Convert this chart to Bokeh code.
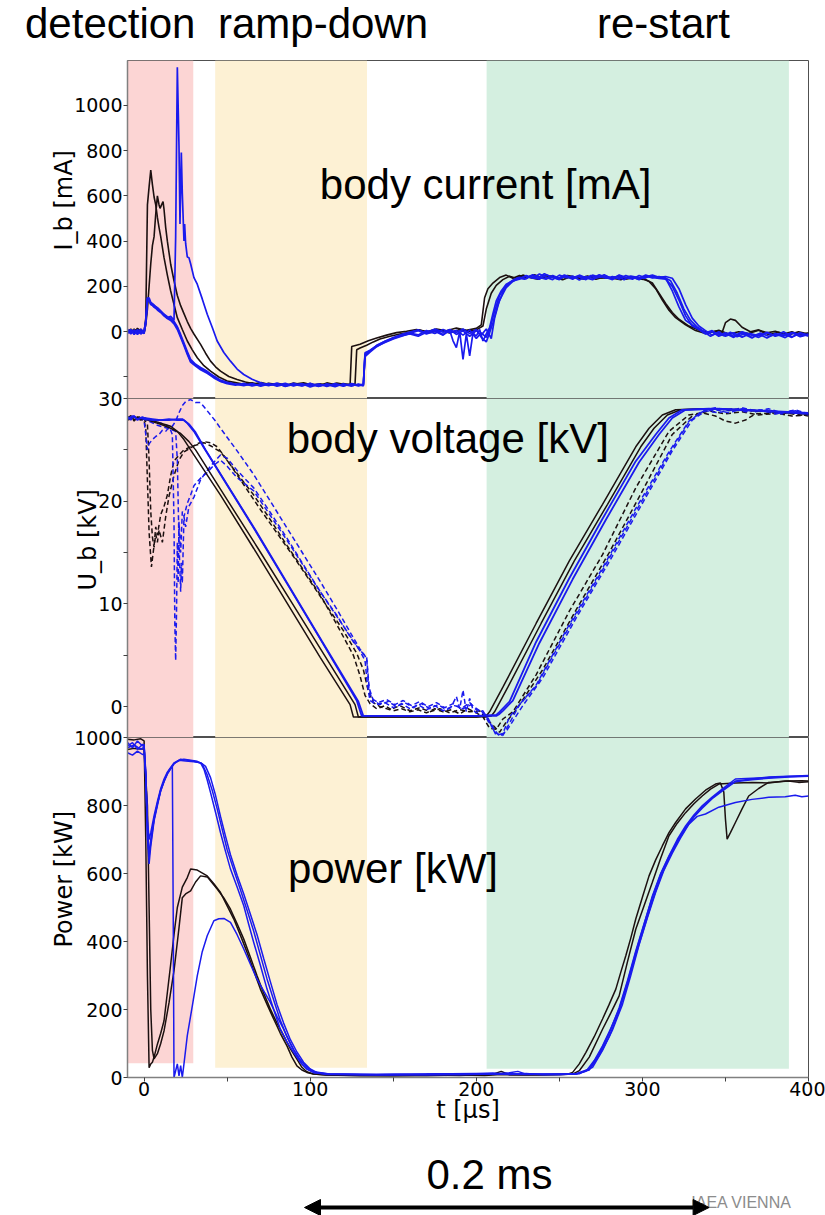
import math
from bokeh.plotting import figure
from bokeh.models import Range1d, FixedTicker, BoxAnnotation, Label, Arrow, NormalHead, Title, Div
from bokeh.layouts import column
from bokeh.embed import file_html
from bokeh.resources import INLINE

# ---------------- data (t in microseconds) ----------------
X_TICKS = [0, 100, 200, 300, 400]
X_MINOR = [50, 150, 250, 350]
I_TICKS = [0, 200, 400, 600, 800, 1000]
I_MINOR = [-200]
U_TICKS = [0, 10, 20, 30]
U_MINOR = [5, 15, 25]
P_TICKS = [0, 200, 400, 600, 800, 1000]

# phase bands
BAND_T0 = [-10, 42.8, 206.2]
BAND_T1 = [29.6, 134.2, 388.2]
BAND_COLORS = ["#fcd5d4", "#fdf1d4", "#d4efe0"]
BAND_P_BOTTOM = [42, 29, 26]

PHASES = ["detection", "ramp-down", "re-start"]

# body current [mA]
I_black_a = [(-10,0),(-8,12),(-6,-4),(-4,15),(-2,2),(0,-6),(1,60),(2,560),(3,640),(4,714),(5,650),(6,595),(7,560),(8,505),(9,460),(10,420),(12,327),(14,250),(16,180),(18,120),(20,62),(23,10),(26,-41),(29,-80),(32,-115),(36,-150),(40,-174),(45,-200),(50,-218),(55,-225),(60,-232),(65,-226),(70,-236),(75,-228),(80,-233),(85,-238),(90,-227),(95,-234),(100,-229),(105,-240),(110,-226),(115,-234),(120,-229),(124,-235),(125,-65),(130,-55),(135,-40),(140,-28),(146,-15),(152,-4),(158,2),(164,10),(170,0),(176,12),(182,4),(188,16),(194,6),(200,15),(203,30),(205,150),(207,190),(210,215),(214,239),(218,250),(222,236),(226,248),(230,238),(235,252),(240,236),(245,246),(250,234),(255,248),(260,240),(265,232),(270,246),(275,238),(280,236),(285,244),(290,232),(295,240),(300,235),(304,222),(308,190),(312,140),(316,95),(320,62),(326,30),(332,5),(338,-8),(344,2),(348,-4),(350,40),(353,56),(356,50),(360,20),(365,0),(370,8),(375,-5),(380,2),(385,-10),(390,0),(395,-15),(400,-5)]
I_black_b = [(-10,6),(-8,-5),(-6,12),(-4,0),(-2,10),(0,-4),(1,30),(2,100),(3,200),(4,300),(5,380),(6,420),(7,520),(8,600),(9,560),(9.6,545),(10.5,560),(11.4,575),(12,540),(13,460),(14,400),(16,298),(18,225),(20,160),(22,115),(24,80),(26,45),(28,15),(30,-10),(34,-56),(37,-95),(40,-130),(43,-155),(46,-174),(51,-198),(56,-211),(61,-222),(66,-230),(71,-225),(76,-234),(81,-229),(86,-237),(91,-231),(96,-226),(101,-236),(106,-230),(111,-238),(116,-227),(121,-233),(127,-230),(128,-80),(130,-72),(134,-60),(138,-45),(142,-32),(148,-20),(154,-10),(160,-2),(166,8),(172,-4),(178,6),(184,-6),(190,10),(196,2),(200,8),(204,25),(206,100),(209,170),(212,205),(216,230),(220,245),(224,236),(228,250),(232,240),(237,232),(242,248),(247,238),(252,230),(257,244),(262,236),(267,246),(272,232),(277,242),(282,236),(287,230),(292,244),(297,234),(302,230),(306,215),(310,170),(314,125),(318,85),(322,55),(328,25),(334,8),(340,-5),(346,6),(352,-10),(358,0),(364,-8),(370,6),(376,-12),(382,-2),(388,-14),(394,0),(400,-10)]
I_blue_s = [(-10,-8),(-8,10),(-6,-12),(-4,5),(-2,-10),(0,2),(1,40),(2,150),(3,138),(4,128),(6,115),(8,106),(10,92),(12,76),(14,62),(16,68),(18,50),(19,420),(20,1168),(21,820),(21.6,476),(22.4,792),(23,610),(24,401),(24.4,476),(25,390),(26,330),(27,327),(28,300),(30,239),(32,210),(35,145),(38,77),(41,20),(44,-41),(48,-92),(52,-130),(56,-165),(60,-189),(65,-210),(70,-225),(75,-236),(80,-230),(85,-240),(90,-228),(95,-238),(100,-232),(105,-242),(110,-230),(115,-238),(120,-233),(125,-240),(129,-231),(132,-236),(133,-93),(136,-82),(140,-62),(145,-42),(150,-28),(155,-18),(160,-10),(165,-20),(170,-2),(175,8),(180,-12),(184,5),(186,-40),(188,-70),(190,0),(192,-122),(194,-10),(196,-107),(198,-5),(200,-20),(202,10),(204,-41),(206,-10),(208,18),(210,80),(212,136),(215,180),(218,210),(222,225),(226,232),(230,248),(234,236),(238,255),(242,240),(246,230),(250,250),(254,238),(258,246),(262,228),(266,244),(270,236),(274,252),(278,240),(282,230),(286,248),(290,236),(294,242),(298,230),(302,246),(306,238),(310,244),(314,236),(318,180),(322,110),(326,50),(330,30),(334,15),(338,-5),(342,5),(346,-15),(350,-5),(355,-20),(360,0),(365,-12),(370,-25),(375,-5),(380,-18),(385,0),(390,-22),(395,-8),(400,-20)]
I_blue_1 = [(-10,5),(-8,-10),(-6,8),(-4,-6),(-2,12),(0,-4),(1,50),(2,150),(3,140),(4,125),(6,108),(8,100),(10,88),(12,72),(14,60),(16,55),(18,42),(20,18),(22,-20),(24,-56),(26,-95),(28,-130),(31,-148),(34,-162),(38,-178),(42,-200),(46,-218),(50,-226),(55,-232),(60,-238),(65,-229),(70,-240),(75,-232),(80,-236),(85,-228),(90,-240),(95,-230),(100,-237),(105,-231),(110,-242),(115,-229),(120,-238),(125,-232),(129,-240),(132,-234),(133,-110),(136,-90),(140,-66),(145,-45),(150,-30),(155,-16),(160,-6),(165,-14),(170,5),(175,-8),(180,10),(184,-5),(188,6),(192,-15),(196,8),(200,-30),(203,-5),(206,-25),(208,10),(211,90),(214,160),(218,205),(222,228),(226,240),(230,234),(234,252),(238,240),(242,232),(246,248),(250,236),(254,244),(258,232),(262,250),(266,238),(270,230),(274,246),(278,236),(282,244),(286,232),(290,248),(294,238),(298,236),(302,250),(306,240),(310,236),(314,232),(318,200),(322,140),(326,70),(330,25),(334,10),(338,-10),(342,0),(346,-20),(350,-8),(355,-25),(360,-5),(365,-20),(370,-10),(375,-28),(380,-8),(385,-18),(390,-4),(395,-22),(400,-12)]
I_blue_2 = [(-10,-5),(-8,8),(-6,-10),(-4,10),(-2,-6),(0,6),(1,45),(2,140),(3,135),(4,120),(6,112),(8,96),(10,85),(12,70),(14,58),(16,50),(18,35),(20,10),(22,-25),(24,-62),(26,-100),(28,-134),(31,-152),(34,-168),(38,-184),(42,-204),(46,-220),(50,-230),(55,-236),(60,-228),(65,-240),(70,-231),(75,-238),(80,-227),(85,-242),(90,-233),(95,-239),(100,-228),(105,-240),(110,-234),(115,-243),(120,-230),(125,-238),(129,-233),(132,-240),(133,-105),(136,-86),(140,-60),(145,-42),(150,-26),(155,-12),(160,-2),(165,8),(170,-6),(175,12),(180,-2),(184,10),(188,-12),(192,4),(196,-20),(200,5),(203,-15),(206,12),(209,-30),(211,60),(214,140),(218,195),(222,222),(226,236),(230,246),(234,238),(238,232),(242,252),(246,240),(250,230),(254,248),(258,238),(262,244),(266,230),(270,250),(274,240),(278,246),(282,234),(286,250),(290,240),(294,232),(298,248),(302,238),(306,250),(310,240),(314,244),(318,236),(322,190),(326,120),(330,60),(334,25),(338,5),(342,-15),(346,0),(350,-20),(355,-5),(360,-24),(365,-8),(370,-18),(375,-2),(380,-20),(385,-10),(390,-25),(395,-5),(400,-15)]
I_blue_3 = [(-10,10),(-8,-4),(-6,6),(-4,-12),(-2,4),(0,-8),(1,35),(2,145),(3,150),(4,130),(6,118),(8,104),(10,90),(12,78),(14,66),(16,58),(18,45),(20,22),(22,-12),(24,-50),(26,-88),(28,-122),(31,-144),(34,-158),(38,-175),(42,-196),(46,-214),(50,-224),(55,-231),(60,-235),(65,-233),(70,-238),(75,-229),(80,-241),(85,-232),(90,-237),(95,-230),(100,-244),(105,-233),(110,-237),(115,-232),(120,-241),(125,-229),(129,-237),(132,-232),(133,-100),(136,-84),(140,-64),(145,-48),(150,-32),(155,-20),(160,-8),(165,4),(170,-10),(175,2),(180,-15),(184,8),(188,-4),(192,12),(196,-8),(200,10),(203,-25),(206,-45),(208,-5),(210,40),(213,120),(217,190),(221,220),(225,238),(229,232),(233,248),(237,236),(241,256),(245,242),(249,234),(253,250),(257,236),(261,246),(265,232),(269,248),(273,238),(277,252),(281,236),(285,244),(289,230),(293,246),(297,240),(301,236),(305,248),(309,238),(313,240),(317,225),(321,170),(325,100),(329,50),(333,20),(337,0),(341,-20),(345,-5),(349,-18),(353,-2),(357,-22),(361,-10),(366,-28),(371,-6),(376,-20),(381,-12),(386,-26),(391,-4),(396,-18),(400,-10)]

# body voltage [kV]: solid and dashed
U_black_1 = [(-10,28.1),(-8,28.3),(-6,27.9),(-4,28.2),(-2,28.0),(0,28.1),(4,27.9),(8,27.7),(12,27.5),(16,27.3),(20,26.8),(24,26.0),(28,25.0),(46,20.6),(66,15.4),(86,10.1),(106,4.8),(124,0.2),(126,-1.0),(140,-1.0),(160,-1.0),(180,-1.0),(200,-1.0),(206,-0.9),(208,-0.5),(216,1.9),(236,8.1),(256,14.2),(276,19.7),(296,25.3),(304,27.1),(312,28.4),(320,28.9),(340,29.0),(360,28.9),(380,28.7),(400,28.5)]
U_black_2 = [(-10,28.0),(-6,28.2),(-2,27.9),(0,28.0),(4,27.8),(10,27.5),(16,27.1),(22,26.6),(27,25.8),(31,25.0),(49,20.4),(69,15.3),(89,10.1),(109,4.9),(127,0.2),(129,-1.0),(160,-1.0),(200,-1.0),(209,-0.9),(211,-0.5),(219,1.9),(239,8.1),(259,14.2),(279,19.7),(299,25.3),(307,27.1),(315,28.4),(323,28.9),(340,29.0),(370,28.8),(400,28.5)]
U_blue_1 = [(-10,28.2),(-8,28.0),(-6,28.3),(-4,27.9),(-2,28.1),(0,28.0),(5,27.9),(10,27.9),(15,27.9),(20,28.0),(23,28.0),(26,27.6),(30,26.8),(36,25.2),(66,17.4),(86,12.0),(106,6.6),(128,0.6),(131,-0.9),(160,-0.9),(200,-0.9),(212,-0.8),(214,-0.5),(220,0.5),(236,6.3),(256,12.5),(276,18.3),(296,23.9),(308,26.5),(316,28.1),(324,28.9),(340,29.0),(370,28.8),(400,28.5)]
U_blue_2 = [(-10,28.0),(-7,28.3),(-4,28.0),(-1,28.2),(0,28.1),(5,28.0),(10,27.9),(15,28.0),(20,27.9),(24,27.9),(27,27.5),(31,26.7),(37,25.0),(67,17.2),(87,11.8),(107,6.4),(129,0.5),(132,-0.9),(170,-0.9),(212,-0.9),(214,-0.7),(216,-0.4),(222,0.6),(238,6.2),(258,12.4),(278,18.2),(298,23.8),(310,26.5),(318,28.1),(326,28.9),(345,29.0),(375,28.8),(400,28.6)]
U_black_d1 = [(-10,28.1),(-8,28.3),(-6,27.8),(-4,28.2),(-2,28.0),(0,27.9),(1,27.0),(2,22),(3,17),(4.4,13.6),(6,15.7),(7,17.5),(8,16.7),(10,18.7),(12,19.5),(14,20.6),(16,22.5),(18,23.9),(21,24.5),(24,25.0),(28,25.3),(32,25.5),(36,25.7),(40,25.4),(46,24.8),(56,22.7),(66,20.6),(76,18.2),(86,15.7),(96,13.3),(106,10.9),(116,8.0),(126,5.0),(130,3.0),(133,1.1),(136,0.3),(140,-0.2),(145,0.1),(150,-0.4),(155,-0.2),(160,-0.5),(165,-0.3),(170,-0.6),(175,-0.2),(180,-0.5),(185,-0.3),(190,-0.7),(195,-0.2),(200,-0.6),(204,-1.0),(208,-2.1),(212,-2.2),(216,-1.2),(222,-0.5),(236,3.1),(256,9.3),(276,14.8),(296,21.3),(316,26.8),(328,28.4),(336,28.6),(344,28.3),(350,27.8),(356,27.6),(362,27.9),(368,28.5),(380,28.6),(390,28.3),(400,28.4)]
U_black_d2 = [(-10,27.9),(-6,28.1),(-2,28.2),(0,28.0),(2,27.5),(3,24),(4,19),(5,16.5),(6,15.5),(7,16.8),(8,16.0),(9,17.2),(11,16.0),(13,18.5),(15,20.5),(18,22.5),(21,24.0),(24,24.8),(28,25.2),(32,25.6),(36,25.8),(40,25.7),(44,25.3),(50,24.0),(60,21.6),(70,19.2),(80,16.9),(90,14.6),(100,12.2),(110,9.8),(120,7.4),(128,5.2),(132,3.6),(135,1.5),(138,0.4),(142,0.0),(148,-0.3),(154,0.1),(160,-0.4),(166,-0.1),(172,-0.5),(178,-0.2),(184,-0.6),(190,-0.3),(196,-0.5),(202,-0.4),(206,-1.2),(210,-1.8),(214,-2.5),(218,-1.5),(224,-0.3),(240,3.6),(260,9.4),(280,15.0),(300,21.0),(318,26.5),(330,28.3),(340,28.8),(350,28.5),(360,28.7),(370,28.4),(385,28.6),(400,28.3)]
U_blue_d1 = [(-10,28.0),(-6,28.2),(-2,27.9),(0,28.1),(4,27.9),(8,27.7),(12,27.5),(15,27.3),(17,26.5),(18,18),(18.5,8),(19,4.5),(19.5,9),(20,16),(20.5,12),(21,18),(22,15),(23,19),(24,18.5),(26,19.8),(28,20.6),(30,21.5),(32,21.9),(35,22.4),(38,22.8),(42,23.5),(46,24.0),(50,23.4),(56,22.3),(66,21.0),(76,18.6),(86,16.2),(96,13.7),(106,11.2),(116,8.8),(126,6.4),(130,5.4),(133,4.5),(134.5,2.0),(136,0.6),(140,0.2),(145,0.4),(150,-0.1),(155,0.3),(160,-0.2),(165,0.2),(170,-0.3),(175,0.1),(180,-0.4),(185,0.0),(188,1.0),(190,-0.2),(192,1.6),(194,-0.5),(196,0.8),(198,-0.3),(200,-0.6),(204,-0.4),(208,-1.5),(212,-2.8),(216,-2.6),(220,-1.0),(226,0.2),(236,2.1),(256,8.0),(276,13.5),(296,19.3),(316,24.8),(328,27.8),(336,28.7),(344,28.9),(352,28.6),(360,29.0),(368,28.7),(376,28.9),(384,28.5),(392,28.8),(400,28.4)]
U_blue_d2 = [(-10,28.1),(-6,27.9),(-2,28.2),(0,28.0),(4,27.7),(8,27.4),(12,27.2),(16,27.0),(19,26.8),(20,24),(21,16),(22,11.2),(22.5,14),(23,12),(24,18.5),(25,17.5),(27,19.5),(30,20.4),(34,22.1),(38,23.0),(42,23.8),(46,24.5),(50,24.2),(56,23.0),(66,21.3),(76,18.9),(86,16.4),(96,13.8),(106,11.2),(116,8.9),(126,6.3),(130,5.5),(134,4.8),(135.5,1.8),(138,0.6),(142,0.2),(147,0.5),(152,0.0),(157,0.4),(162,-0.1),(167,0.3),(172,-0.2),(177,0.2),(182,-0.3),(187,0.1),(192,-0.2),(197,0.2),(202,-0.4),(206,-0.8),(210,-2.0),(214,-2.9),(218,-2.4),(222,-1.4),(228,0.1),(240,2.8),(260,8.6),(280,14.1),(300,19.8),(318,24.9),(330,27.9),(338,28.8),(346,28.6),(354,29.0),(362,28.7),(370,28.9),(380,28.5),(390,28.8),(400,28.4)]
U_blue_d3 = [(-10,28.2),(-8,27.9),(-6,28.3),(-4,28.0),(-2,28.1),(0,27.8),(1,26.5),(2,25.0),(3,25.6),(5,26.0),(7,26.3),(9,26.5),(11,26.9),(13,26.8),(15,27.2),(17,27.3),(19,27.8),(21,28.6),(23,29.3),(25,29.7),(28,29.9),(31,29.6),(34,29.6),(37,29.0),(40,28.4),(43,27.8),(46,27.1),(56,24.9),(66,22.6),(76,20.0),(86,17.4),(96,14.8),(106,12.2),(116,9.5),(126,6.7),(130,5.6),(134,4.7),(135.3,1.8),(137,0.8),(141,0.4),(146,0.7),(151,0.2),(156,0.6),(161,0.1),(166,0.5),(171,0.0),(176,0.4),(181,-0.1),(186,0.3),(191,-0.2),(196,0.4),(200,-0.3),(204,-0.6),(208,-1.6),(212,-2.6),(216,-2.8),(220,-1.6),(226,0.2),(236,2.0),(256,7.8),(276,13.3),(296,19.0),(316,24.6),(328,27.7),(336,28.8),(344,29.1),(352,28.8),(360,29.1),(368,28.8),(376,29.0),(384,28.6),(392,28.9),(400,28.5)]

# power [kW]
P_black_1 = [(-10,995),(-6,993),(-2,996),(0,990),(1,700),(2,300),(3,29),(4,40),(5,45),(6,60),(8,98),(10,130),(12,167),(14,250),(16,333),(18,420),(20,500),(23,560),(26,588),(28,613),(32,610),(38,593),(42,570),(46,544),(50,505),(54,466),(58,418),(62,368),(66,314),(70,260),(74,215),(78,172),(82,130),(86,93),(89,60),(92,34),(95,22),(98,15),(102,10),(110,7),(130,6),(150,5),(170,7),(190,6),(200,8),(210,10),(215,18),(220,8),(240,8),(255,10),(258,15),(262,40),(266,74),(271,120),(276,172),(280,215),(284,260),(287,310),(290,358),(293,410),(296,466),(300,530),(304,593),(308,640),(312,681),(316,720),(320,750),(326,790),(332,819),(338,845),(344,863),(347,866),(349,840),(350,760),(351,701),(353,720),(356,750),(360,790),(364,828),(370,850),(376,868),(382,870),(388,872),(394,868),(400,870)]
P_black_2 = [(-10,965),(-6,968),(-2,966),(0,967),(2,800),(3,500),(4,200),(5,80),(6,55),(8,70),(10,100),(12,137),(15,220),(18,314),(21,440),(23,529),(25,540),(28,549),(31,575),(34,593),(38,590),(44,554),(48,528),(52,495),(56,452),(60,407),(64,354),(68,299),(72,248),(76,201),(80,160),(84,123),(88,85),(92,54),(95,30),(98,17),(102,10),(110,7),(130,5),(150,6),(170,5),(190,7),(205,6),(215,9),(230,7),(250,8),(258,10),(262,20),(268,60),(276,142),(281,190),(286,240),(291,340),(296,436),(301,505),(306,574),(311,645),(316,711),(321,748),(326,779),(331,805),(336,828),(341,848),(346,863),(356,866),(366,868),(376,866),(386,872),(396,873),(400,872)]
P_blue_1 = [(-10,975),(-7,985),(-4,965),(-1,980),(0,975),(1,900),(2,720),(3,628),(4,680),(6,755),(8,800),(10,843),(12,870),(14,892),(16,908),(18,922),(20,930),(22,936),(26,933),(30,930),(34,925),(36,907),(38,875),(40,838),(43,780),(46,720),(49,665),(52,613),(56,560),(60,505),(63,450),(66,397),(70,330),(74,260),(78,200),(82,142),(86,105),(90,74),(94,45),(98,25),(102,15),(110,10),(130,8),(150,9),(170,8),(190,10),(200,11),(210,13),(220,9),(230,12),(240,8),(250,9),(260,10),(266,18),(271,50),(276,93),(281,145),(286,201),(291,280),(296,368),(301,450),(306,534),(311,600),(316,652),(321,700),(326,740),(331,772),(336,799),(342,825),(348,848),(356,878),(366,880),(376,882),(388,885),(400,887)]
P_blue_2 = [(-10,955),(-7,948),(-4,960),(-1,950),(0,952),(1,880),(2,760),(3,700),(4,720),(6,770),(8,812),(10,850),(12,878),(14,898),(16,912),(18,925),(21,933),(25,931),(30,929),(34,926),(37,915),(40,882),(43,830),(46,768),(49,710),(52,655),(56,595),(60,540),(64,480),(68,420),(72,350),(76,282),(80,215),(84,160),(88,112),(92,75),(96,45),(100,25),(104,15),(112,10),(140,9),(170,10),(200,12),(230,10),(260,11),(268,25),(274,70),(280,130),(286,205),(291,285),(296,372),(301,452),(306,530),(311,598),(316,650),(321,695),(326,735),(331,768),(336,795),(342,822),(348,845),(356,872),(366,878),(376,884),(388,886),(400,888)]
P_blue_3 = [(-10,985),(-7,970),(-4,990),(-1,975),(0,980),(1,890),(2,700),(3,660),(4,700),(6,760),(8,805),(10,845),(12,872),(14,895),(16,910),(18,924),(21,932),(24,936),(28,933),(32,930),(35,922),(38,890),(41,845),(44,790),(47,730),(50,670),(54,610),(58,552),(62,492),(66,430),(70,360),(74,290),(78,228),(82,168),(86,120),(90,82),(94,52),(98,30),(102,18),(110,11),(140,9),(170,10),(200,11),(230,9),(260,10),(268,22),(274,65),(280,120),(286,195),(291,275),(296,360),(301,440),(306,520),(311,590),(316,645),(321,692),(326,732),(331,766),(336,792),(342,820),(348,842),(356,870),(366,876),(376,880),(388,884),(400,886)]
P_blue_4 = [(-10,970),(-6,978),(-2,965),(0,972),(1,890),(2,740),(3,650),(4,690),(6,760),(8,805),(10,845),(12,872),(14,895),(16,910),(17,915),(17.5,500),(18,0),(19,20),(20,40),(21,5),(22,35),(23,0),(24,40),(26,123),(29,210),(32,299),(35,370),(38,417),(42,461),(45,467),(48,468),(52,456),(56,420),(60,378),(64,333),(68,289),(72,255),(76,221),(80,180),(84,142),(88,100),(92,64),(95,40),(98,25),(102,15),(110,9),(130,8),(150,7),(170,9),(190,8),(210,10),(220,14),(225,18),(230,10),(250,9),(262,11),(270,30),(276,80),(282,140),(288,215),(293,300),(298,390),(303,470),(308,545),(313,610),(318,660),(323,705),(328,745),(333,768),(338,775),(346,795),(356,809),(366,818),(376,824),(386,826),(392,830),(396,826),(400,828)]

# ---------------- styling ----------------
BLACK = "#1c1010"
BLUE = "#1a1aee"
TICK_FONT = "DejaVu Sans"
NOTE_FONT = "Liberation Sans"
W = 825
LEFT = 127
RIGHT = 17
FRAME_W = W - LEFT - RIGHT

x_range = Range1d(-10, 400)


def xy(pairs):
    return [a for a, _ in pairs], [b for _, b in pairs]


def make_fig(y_range, frame_h, top_border, bottom_border, margin_top, with_x):
    p = figure(frame_width=FRAME_W, frame_height=frame_h, x_range=x_range, y_range=y_range,
               output_backend="svg", toolbar_location=None,
               x_axis_location="below" if with_x else None,
               min_border_left=LEFT, min_border_right=RIGHT,
               min_border_top=top_border, min_border_bottom=bottom_border,
               margin=(margin_top, 0, 0, 0))
    p.grid.visible = False
    p.background_fill_color = "white"
    p.border_fill_alpha = 0
    p.outline_line_color = "#505050"
    p.outline_line_width = 1
    for ax in p.axis:
        ax.major_label_text_font = TICK_FONT
        ax.major_label_text_font_size = "19px"
        ax.major_label_text_color = "black"
        ax.major_tick_in = 0
        ax.major_tick_out = 4
        ax.minor_tick_in = 0
        ax.minor_tick_out = 4
        ax.axis_line_color = "#808080"
        ax.axis_line_width = 1.5
        ax.major_tick_line_color = "#404040"
        ax.minor_tick_line_color = "#404040"
        ax.major_label_standoff = 1
    return p


def add_bands(p, bottoms=None):
    for i in range(3):
        kw = dict(left=BAND_T0[i], right=BAND_T1[i], fill_color=BAND_COLORS[i],
                  fill_alpha=1, line_alpha=0, level="underlay")
        if bottoms is not None:
            kw["bottom"] = bottoms[i]
        p.add_layout(BoxAnnotation(**kw))


def note(p, text, x, y, size="42px", align="left", font=NOTE_FONT, color="black"):
    p.add_layout(Label(x=x, y=y, text=text, text_font=font, text_font_size=size,
                       text_align=align, text_baseline="alphabetic", text_color=color))


def ylabel(p, text, offset):
    p.add_layout(Title(text=text, align="left", offset=offset, text_font=TICK_FONT,
                       text_font_size="24px", text_font_style="normal",
                       text_color="black", standoff=-12), "left")


# ---------- header with the phase names (HTML text) ----------
spans = "".join(
    '<span style="position:absolute;left:%dpx;top:3px;">%s</span>' % (xpos, name)
    for name, xpos in zip(PHASES, [25, 218, 597]))
head = Div(text='<div style="position:relative;width:825px;height:60px;'
                'font-family:\'Liberation Sans\',Arial,sans-serif;font-size:42px;'
                'line-height:42px;color:black;white-space:nowrap;">' + spans + '</div>',
           width=W, height=60, margin=(0, 0, 0, 0))

# ---------- panel 1: body current ----------
p1 = make_fig(Range1d(-295, 1198), 338, 0, 0, 0, False)
p1.yaxis.ticker = FixedTicker(ticks=I_TICKS, minor_ticks=I_MINOR)
add_bands(p1)
for tr in (I_black_a, I_black_b):
    x, y = xy(tr)
    p1.line(x, y, line_color=BLACK, line_width=1.6)
for tr in (I_blue_1, I_blue_2, I_blue_3, I_blue_s):
    x, y = xy(tr)
    p1.line(x, y, line_color=BLUE, line_width=1.7)
note(p1, "body current [mA]", 205.6, 649, align="center")
ylabel(p1, "I_b [mA]", 148)

# ---------- panel 2: body voltage ----------
p2 = make_fig(Range1d(-3.0, 30), 339, 10, 0, -10, False)
p2.yaxis.ticker = FixedTicker(ticks=U_TICKS, minor_ticks=U_MINOR)
add_bands(p2)
for tr in (U_black_d1, U_black_d2):
    x, y = xy(tr)
    p2.line(x, y, line_color=BLACK, line_width=1.5, line_dash="5 3")
for tr in (U_blue_d1, U_blue_d2, U_blue_d3):
    x, y = xy(tr)
    p2.line(x, y, line_color=BLUE, line_width=1.5, line_dash="5 3")
for tr in (U_black_1, U_black_2):
    x, y = xy(tr)
    p2.line(x, y, line_color=BLACK, line_width=1.5)
for tr in (U_blue_1, U_blue_2):
    x, y = xy(tr)
    p2.line(x, y, line_color=BLUE, line_width=1.8)
note(p2, "body voltage [kV]", 182.8, 26.1, align="center")
ylabel(p2, "U_b [kV]", 147)

# ---------- panel 3: power ----------
p3 = make_fig(Range1d(0, 1000), 340, 10, 70, -10, True)
p3.yaxis.ticker = FixedTicker(ticks=P_TICKS)
xa = p3.xaxis[0]
xa.ticker = FixedTicker(ticks=X_TICKS, minor_ticks=X_MINOR)
xa.axis_label = "t [µs]"
xa.axis_label_text_font = TICK_FONT
xa.axis_label_text_font_size = "24px"
xa.axis_label_text_font_style = "normal"
xa.axis_label_text_color = "black"
xa.axis_label_standoff = -3
xa.major_label_standoff = 0
add_bands(p3, BAND_P_BOTTOM)
for tr in (P_black_1, P_black_2):
    x, y = xy(tr)
    p3.line(x, y, line_color=BLACK, line_width=1.5)
for tr in (P_blue_1, P_blue_2, P_blue_3, P_blue_4):
    x, y = xy(tr)
    p3.line(x, y, line_color=BLUE, line_width=1.5)
note(p3, "power [kW]", 149.8, 614, align="center")
ylabel(p3, "Power [kW]", 130)

# ---------- footer: time-scale arrow (frame units = page pixels) ----------
foot = figure(frame_width=FRAME_W, frame_height=68, x_range=Range1d(LEFT, W - RIGHT),
              y_range=Range1d(1215, 1147), output_backend="svg", toolbar_location=None,
              x_axis_location=None, y_axis_location=None,
              min_border_left=LEFT, min_border_right=RIGHT,
              min_border_top=0, min_border_bottom=0)
foot.grid.visible = False
foot.outline_line_color = None
foot.border_fill_alpha = 0
foot.background_fill_alpha = 0
note(foot, "0.2 ms", 489, 1174, align="center")
note(foot, "IAEA VIENNA", 741, 1202, size="16px", align="center", color="#8c8c8c")
foot.add_layout(Arrow(x_start=304, y_start=1207, x_end=708.6, y_end=1207,
                      line_width=4, line_color="black",
                      start=NormalHead(size=16, fill_color="black", line_color="black"),
                      end=NormalHead(size=16, fill_color="black", line_color="black")))

layout = column(head, p1, p2, p3, foot, spacing=0)
open("out.html", "w").write(file_html(layout, INLINE))
